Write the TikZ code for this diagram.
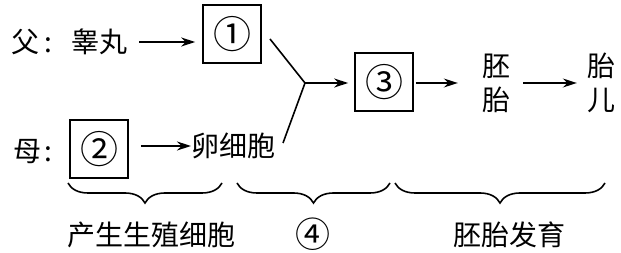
\documentclass[tikz,border=0pt]{standalone}
\usepackage{fontspec}
\setmainfont{Noto Sans CJK SC}
\usetikzlibrary{arrows.meta,decorations.pathreplacing}
\begin{document}
\begin{tikzpicture}[x=1pt,y=-1pt,
  txt/.style={inner sep=0pt, font=\fontsize{28}{34}\selectfont},
  bx/.style={draw, line width=1.6pt, minimum width=58pt, minimum height=58pt, inner sep=0pt, font=\fontsize{38}{40}\selectfont},
  arr/.style={line width=1.6pt, -{Stealth[length=14pt,width=9pt]}},
  ln/.style={line width=1.6pt},
  br/.style={line width=1.6pt, decorate, decoration={brace, mirror, amplitude=20pt}}]
\path[use as bounding box] (0,0) rectangle (621,253);
% top row
\node[txt, anchor=west] (fu) at (11,42) {父\hspace{5pt}:};
\node[txt] (gw) at (99,42) {睾丸};
\node[bx] (b1) at (232,34) {①};
\draw[arr] ([xshift=12pt]gw.east) -- ([xshift=-7pt]b1.west |- gw.east);
% bottom row
\node[txt, anchor=west] (mu) at (13,152) {母\hspace{3pt}:};
\node[bx] (b2) at (99,149) {②};
\node[txt, anchor=west] (egg) at (191,146) {卵细胞};
\draw[arr] ([xshift=12pt]b2.east |- egg.west) -- (egg.west);
% junction
\coordinate (a1) at (270,39);
\coordinate (a2) at (283,143);
\coordinate (j) at (305,83);
\draw[ln] (a1) -- (j) -- (a2);
\node[bx] (b3) at (384,82) {③};
\draw[arr] (j) -- ([xshift=-6pt]b3.west |- j);
\node[txt, align=center] (pt) at (496,83) {胚\\胎};
\node[txt, align=center] (te) at (601,83) {胎\\儿};
\draw[arr] ([xshift=2pt]b3.east |- j) -- ([xshift=-24pt]pt.west |- j);
\draw[arr] ([xshift=13pt]pt.east |- j) -- ([xshift=-10pt]te.west |- j);
% braces
\coordinate (c1) at (68,183);  \coordinate (c2) at (222,183);
\coordinate (c3) at (237,183); \coordinate (c4) at (390,183);
\coordinate (c5) at (395,183); \coordinate (c6) at (605,183);
\draw[br] (c1) -- (c2);
\draw[br] (c3) -- (c4);
\draw[br] (c5) -- (c6);
\node[txt] (l1) at (151,235) {产生生殖细胞};
\node[txt, font=\fontsize{35}{36}\selectfont] (l2) at (313,234) {④};
\node[txt] (l3) at (509,235) {胚胎发育};
\end{tikzpicture}
\end{document}
